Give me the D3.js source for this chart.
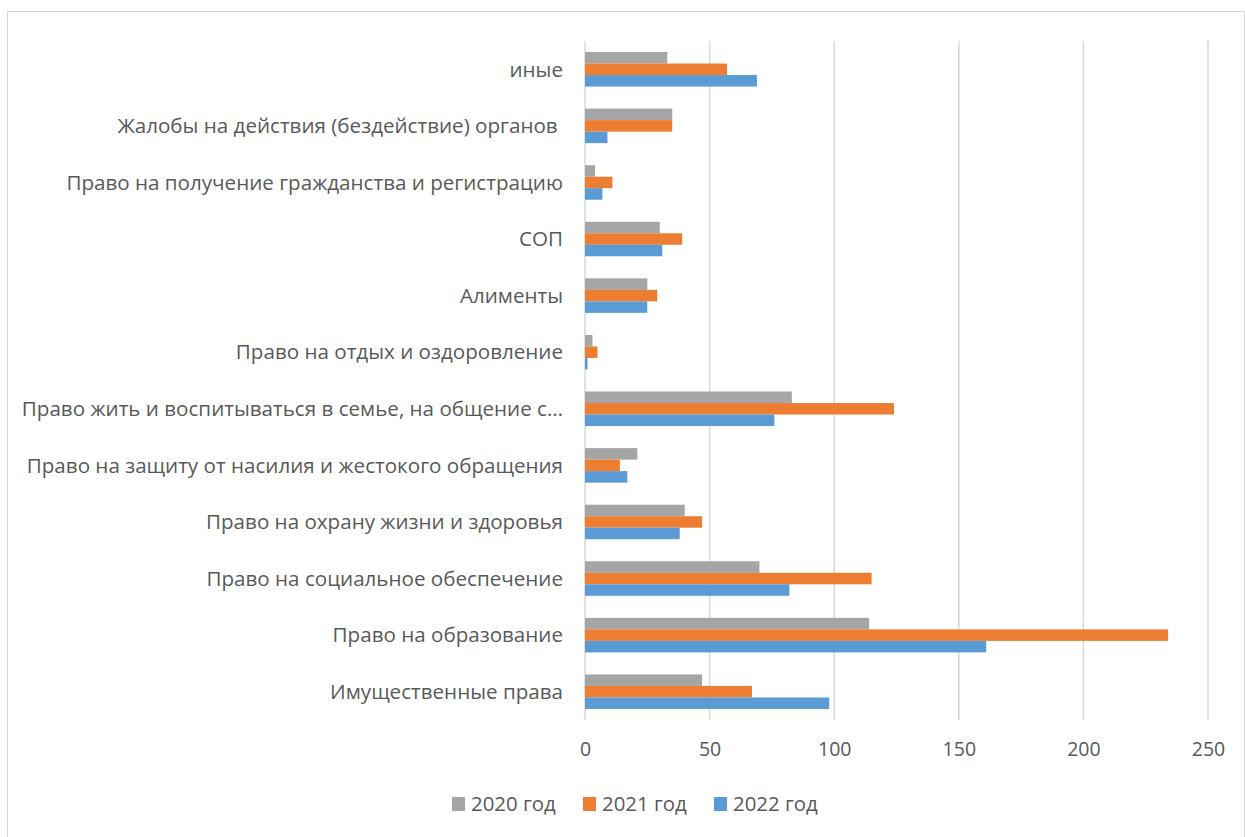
<!DOCTYPE html>
<html>
<head>
<meta charset="utf-8">
<script src="https://cdn.jsdelivr.net/npm/d3@7"></script>
<style>
  body { margin: 0; background: #fff; }
  text { font-family: "Open Sans", "Noto Sans", sans-serif; fill: #595959; }
</style>
</head>
<body>
<div class="js-chart"></div>
<script>
// Categories, top to bottom as drawn
const categories = [
  "иные",
  "Жалобы на действия (бездействие) органов ",
  "Право на получение гражданства и регистрацию",
  "СОП",
  "Алименты",
  "Право на отдых и оздоровление",
  "Право жить и воспитываться в семье, на общение с…",
  "Право на защиту от насилия и жестокого обращения",
  "Право на охрану жизни и здоровья",
  "Право на социальное обеспечение",
  "Право на образование",
  "Имущественные права"
];

const seriesNames = ["2020 год", "2021 год", "2022 год"];
const seriesColors = ["#a5a5a5", "#ed7d31", "#5b9bd5"];

const values2020 = [33, 35, 4, 30, 25, 3, 83, 21, 40, 70, 114, 47];
const values2021 = [57, 35, 11, 39, 29, 5, 124, 14, 47, 115, 234, 67];
const values2022 = [69, 9, 7, 31, 25, 1, 76, 17, 38, 82, 161, 98];

const xTicks = [0, 50, 100, 150, 200, 250];

const chart = (function () {
  "use strict";

  var width = 1245, height = 837;
  var plot = { left: 585, right: 1208, top: 41, bottom: 720 };
  var svg = null;

  var init = function () {
    svg = d3.select(".js-chart").append("svg")
      .attr("width", width)
      .attr("height", height);

    // outer chart border
    svg.append("rect")
      .attr("x", 7.5).attr("y", 11.5)
      .attr("width", width - 8).attr("height", height)
      .attr("fill", "none")
      .attr("stroke", "#d9d9d9");

    var x = d3.scaleLinear().domain([0, 250]).range([plot.left, plot.right]);
    var y = d3.scaleBand().domain(categories).range([plot.top, plot.bottom])
      .paddingInner(0.39).paddingOuter(0.195);
    var ySub = d3.scaleBand().domain(seriesNames).range([0, y.bandwidth()]);

    // gridlines
    svg.append("g").selectAll("line")
      .data(xTicks)
      .enter().append("line")
        .attr("x1", d => x(d)).attr("x2", d => x(d))
        .attr("y1", plot.top).attr("y2", plot.bottom)
        .attr("stroke", "#d9d9d9").attr("stroke-width", 1.5);

    var rows = categories.map(function (c, i) {
      return { cat: c, vals: [values2020[i], values2021[i], values2022[i]] };
    });

    var groups = svg.append("g").selectAll("g")
      .data(rows)
      .enter().append("g")
        .attr("transform", d => "translate(0," + y(d.cat) + ")");

    groups.selectAll("rect")
      .data(d => d.vals.map((v, j) => ({ v: v, name: seriesNames[j], color: seriesColors[j] })))
      .enter().append("rect")
        .attr("x", x(0))
        .attr("y", d => ySub(d.name))
        .attr("width", d => x(d.v) - x(0))
        .attr("height", ySub.bandwidth())
        .attr("fill", d => d.color);

    // category labels
    svg.append("g").selectAll("text")
      .data(categories)
      .enter().append("text")
        .attr("x", 563)
        .attr("y", d => y(d) + y.bandwidth() / 2)
        .attr("dy", "0.35em")
        .attr("text-anchor", "end")
        .attr("font-size", 20.6)
        .style("white-space", "pre")
        .text(d => d);

    // x axis
    var xAxis = svg.append("g")
      .attr("transform", "translate(0," + plot.bottom + ")")
      .call(d3.axisBottom(x).tickValues(xTicks).tickSize(0).tickPadding(22));
    xAxis.select(".domain").remove();
    xAxis.selectAll("text")
      .attr("font-size", 19.5)
      .style("font-family", "Open Sans, Noto Sans, sans-serif")
      .attr("fill", "#595959");

    // legend
    var legendX = [452, 583, 714];
    var legend = svg.append("g").selectAll("g")
      .data(seriesNames)
      .enter().append("g")
        .attr("transform", (d, i) => "translate(" + legendX[i] + ",804)");
    legend.append("rect")
      .attr("x", 0).attr("y", -7)
      .attr("width", 13).attr("height", 14)
      .attr("fill", (d, i) => seriesColors[i]);
    legend.append("text")
      .attr("x", 19).attr("dy", "0.35em")
      .attr("font-size", 20.4)
      .text(d => d);
  };

  return { init: init };
})();

chart.init();
</script>
</body>
</html>
